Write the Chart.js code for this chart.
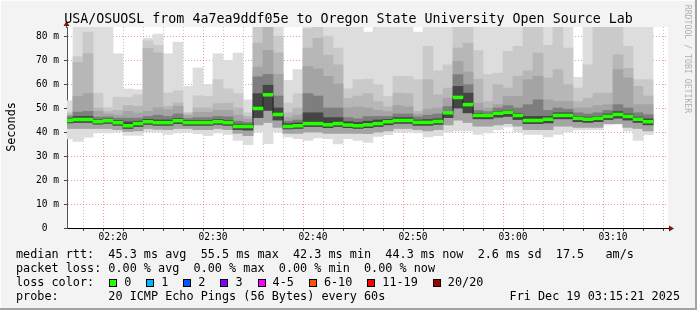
<!DOCTYPE html>
<html>
<head>
<meta charset="utf-8">
<script src="https://cdn.jsdelivr.net/npm/chart.js@4.4.0/dist/chart.umd.min.js"></script>
<style>
  html, body { margin: 0; padding: 0; background: #f3f3f3; }
  #wrap { position: relative; width: 697px; height: 310px; overflow: hidden; font-family: 'DejaVu Sans Mono', monospace; color: #000; }
  #smoke { position: absolute; left: 0; top: 0; }
  .txt { position: absolute; white-space: pre; font-size: 11.8px; line-height: 14px; }
  .box { display: inline-block; width: 6px; height: 6px; border: 1px solid #000; margin: 0 7px 0 15px; vertical-align: -1px; }
</style>
</head>
<body>
<div id="wrap">
  <canvas id="smoke" width="697" height="310"></canvas>
  <div class="txt" style="left:0;width:697px;text-align:center;top:11px;font-size:13.3px;line-height:16px">USA/OSUOSL from 4a7ea9ddf05e to Oregon State University Open Source Lab</div>
  <div class="txt" style="left:-39px;width:100px;text-align:center;top:120px;transform:rotate(-90deg)">Seconds</div>
  <div class="txt" style="left:628px;width:120px;text-align:center;top:53px;font-size:8.2px;line-height:12px;color:#b0b0b0;transform:rotate(90deg)">RRDTOOL / TOBI OETIKER</div>
  <div class="txt" style="left:16px;top:247px">median rtt:  45.3 ms avg  55.5 ms max  42.3 ms min  44.3 ms now  2.6 ms sd  17.5   am/s</div>
  <div class="txt" style="left:16px;top:261px">packet loss: 0.00 % avg  0.00 % max  0.00 % min  0.00 % now</div>
  <div class="txt" id="lossRow" style="left:16px;top:275px">loss color:</div>
  <div class="txt" style="left:16px;top:289px">probe:       20 ICMP Echo Pings (56 Bytes) every 60s</div>
  <div class="txt" style="right:17px;top:289px">Fri Dec 19 03:15:21 2025</div>
</div>
<script>
// one bar per minute, first bar starts 02:15 (minutes after 02:00)
var firstMinute = 15;

var medianRtt = [44.8, 45.2, 45.2, 44.3, 44.7, 43.9, 42.6, 43.5, 44.3, 43.9,
                 43.9, 44.7, 43.9, 43.9, 43.9, 44.3, 43.9, 42.3, 42.3, 49.8,
                 55.5, 47.3, 42.3, 42.6, 43.5, 43.5, 43.0, 43.5, 42.9, 42.6,
                 43.0, 43.5, 44.3, 44.8, 44.8, 44.0, 44.0, 44.4, 48.0, 54.4,
                 51.4, 46.9, 46.9, 47.8, 48.2, 46.9, 44.8, 44.8, 45.3, 46.9,
                 46.9, 45.7, 45.3, 45.7, 46.5, 47.3, 46.5, 45.3, 44.3];

var maxRtt = [53, 90, 90, 90, 90, 72.6, 57.9, 57.6, 79, 80.8,
              72.6, 77.5, 59, 66.7, 59.7, 72.6, 69.7, 72.9, 53.4, 90,
              90, 88, 61.5, 66, 90, 90, 90, 84, 84, 84,
              81.6, 84, 84, 84, 84, 81.6, 84, 84, 84, 86,
              86, 84, 84, 84, 84, 84, 84, 84, 84, 84,
              84, 62.8, 84, 84, 84, 84, 84, 84, 84];

var highB = [48.3, 71.4, 81.6, 56.2, 50.2, 54.5, 54.4, 55.5, 78, 76.1,
             56.2, 57.2, 48.2, 55.1, 54.8, 61.8, 58, 56, 48, 88,
             88, 80, 52, 56, 83, 86, 80, 75, 58, 61.8,
             62, 59.7, 54.8, 63.2, 63.2, 61.8, 75.7, 65.5, 68, 84,
             84, 73.9, 63.9, 64.5, 73.6, 75.7, 84, 84, 76.1, 84,
             75, 58.3, 68, 84, 84, 84, 75.7, 61.8, 61.8];

var highC = [47.5, 69, 72.6, 50, 48.5, 49, 51, 50.7, 74.8, 73,
             50.7, 52.1, 47.5, 50, 50, 51.8, 52, 50, 46.5, 77,
             86, 73, 48, 50, 75, 79, 72, 68, 54, 55,
             56, 52.7, 50.5, 56.2, 56, 48.6, 61.8, 55.5, 58.3, 75,
             77, 62, 52.7, 59.7, 58.3, 63.2, 65.5, 72.9, 62.5, 66,
             59.7, 52.7, 54.1, 56.2, 56.2, 72.2, 66.5, 59, 55];

var highD = [47, 54.8, 56, 48.6, 47.5, 47, 48.6, 47.9, 48.6, 50.1,
             49.3, 50.7, 46.8, 48.2, 48.2, 49, 49, 47, 45.5, 67,
             74, 64, 46, 47, 67.3, 66.3, 63.2, 60, 50, 50.5,
             50, 49, 48.5, 51, 50.5, 47.5, 49.5, 50, 54.1, 69.4,
             65, 52, 50, 51.4, 54.8, 54.8, 61.8, 63.2, 53.4, 52.7,
             52.7, 50, 50, 51, 51.4, 66, 62.5, 51.4, 51.4];

var highE = [46.4, 48.3, 48.6, 46.2, 46.3, 45.8, 45.8, 45.8, 46.5, 47,
             46.5, 47.5, 45.6, 46, 46, 46.5, 46.3, 44.5, 44, 63,
             64, 55, 44.5, 45, 56, 55, 50, 50, 46, 45.5,
             46.5, 46.5, 46.5, 47.5, 47.5, 46.3, 47, 47.5, 50.6, 63.9,
             59.7, 49, 48.5, 50, 51, 50, 51.4, 53.4, 49, 50,
             49.5, 48, 47.5, 48, 49, 51.4, 50, 48, 47.2];

var highF = [45.5, 46.5, 46.5, 45.1, 45.4, 44.8, 44.2, 44.5, 45.3, 45,
             45, 45.6, 44.8, 44.8, 44.8, 45.2, 44.8, 43.3, 43.2, 56,
             59.5, 50, 43.5, 43.8, 48, 48, 46, 46, 44.3, 44,
             44.5, 45, 45.3, 46, 46, 45, 45.2, 45.5, 48.5, 59,
             56.2, 47.8, 47.5, 48.6, 49, 47.8, 46.5, 46.5, 46.5, 48,
             48, 46.5, 46.2, 46.5, 47.5, 48.5, 47.5, 46.2, 45.5];

var lowNear = [43.8, 44, 44, 43.3, 43.6, 42.8, 41.5, 42.3, 43.2, 42.8,
               42.8, 43.5, 42.8, 42.8, 42.8, 43.2, 42.8, 41, 40.8, 46,
               49, 45, 41.3, 41.5, 42.3, 42.3, 41.8, 42.3, 41.8, 41.5,
               41.8, 42.3, 43, 43.6, 43.6, 42.8, 42.8, 43.2, 46, 50,
               48, 45.5, 45.5, 46.2, 46.5, 45.2, 43.5, 43.5, 43.8, 45.5,
               45.5, 44.3, 44, 44.3, 45.2, 45.8, 45, 44, 43];

var lowMid = [41.5, 41.5, 41.5, 41.5, 41.5, 41, 40.3, 40.5, 41.5, 41.2,
              41, 41.5, 41.5, 41, 41, 41.5, 41, 39.5, 38.5, 43,
              44, 42, 39.5, 39.5, 40, 40, 39.5, 39.5, 39.5, 39.5,
              39.3, 40, 40.5, 41.5, 41.5, 41, 40.5, 41, 43, 45,
              44, 42.5, 42.5, 43, 43.5, 42.5, 41, 41, 41, 42.5,
              42.5, 42, 42, 42, 43.5, 43.5, 42, 41.5, 40.5];

var minRtt = [37.1, 36.1, 37.8, 39.6, 39.6, 40, 38.6, 38.6, 40, 40,
              39, 39.6, 40, 39.3, 38.5, 39.6, 39, 36.5, 34.7, 40,
              35.1, 40, 37.9, 37.2, 36.5, 37.5, 37.2, 35, 37.2, 36.5,
              35.7, 38.2, 38.9, 40, 40, 39.6, 37.9, 38.5, 40, 40.4,
              40.4, 39, 39.6, 41, 42.1, 40, 39, 39, 37.9, 39,
              40, 41, 41, 41, 43.0, 43.3, 40.3, 36.5, 38.9];

var xTickMinutes = [20, 30, 40, 50, 60, 70];
var xTickLabels = ['02:20', '02:30', '02:40', '02:50', '03:00', '03:10'];
var yTickLabels = ['0  ', '10 m', '20 m', '30 m', '40 m', '50 m', '60 m', '70 m', '80 m'];

var lossLabels = ['0', '1', '2', '3', '4-5', '6-10', '11-19', '20/20'];
var lossColors = ['#26ff00', '#00b8ff', '#0059ff', '#7e00ff', '#ff00ff', '#ff5500', '#ff0000', '#a10000'];

var lossRow = document.getElementById('lossRow');
lossLabels.forEach(function (lbl, i) {
  var b = document.createElement('span');
  b.className = 'box';
  b.style.background = lossColors[i];
  lossRow.appendChild(b);
  lossRow.appendChild(document.createTextNode(lbl));
});

function band(lo, hi) {
  return medianRtt.map(function (m, i) {
    return { x: firstMinute + i + 0.5, y: [lo[i], hi[i]] };
  });
}

function smokeSet(lo, hi, color) {
  return {
    type: 'bar', data: band(lo, hi), backgroundColor: color,
    grouped: false, barPercentage: 1, categoryPercentage: 1, borderWidth: 0
  };
}

// green median mark is a thin band around each median
var medLow = medianRtt.map(function (m) { return m - 0.6; });
var medHigh = medianRtt.map(function (m) { return m + 0.6; });

var majorGrid = 'rgba(235,90,90,0.6)';
var minorGrid = 'rgba(150,150,150,0.55)';

function gridColor(c) {
  if (!c.tick) return minorGrid;
  var v = c.tick.value;
  if (c.scale.axis === 'y' && v === 0) return 'rgba(0,0,0,0)';
  return v % 10 === 0 ? majorGrid : minorGrid;
}

var framePlugin = {
  id: 'frame',
  beforeDraw: function (chart) {
    var ctx = chart.ctx, a = chart.chartArea;
    ctx.save();
    ctx.fillStyle = '#f3f3f3';
    ctx.fillRect(0, 0, 697, 310);
    ctx.fillStyle = '#fdfdfd';
    ctx.fillRect(0, 0, 697, 1);
    ctx.fillRect(0, 0, 1, 310);
    ctx.fillStyle = '#a3a3a3';
    ctx.fillRect(695, 0, 2, 310);
    ctx.fillRect(0, 308, 697, 2);
    ctx.fillStyle = '#fff';
    ctx.fillRect(a.left, a.top, a.right - a.left, a.bottom - a.top);
    ctx.restore();
  },
  afterDraw: function (chart) {
    var ctx = chart.ctx, a = chart.chartArea;
    ctx.save();
    ctx.strokeStyle = '#555';
    ctx.beginPath();
    ctx.moveTo(a.left - 0.5, a.top + 1);
    ctx.lineTo(a.left - 0.5, a.top - 3);
    ctx.stroke();
    ctx.fillStyle = '#7f1010';
    ctx.beginPath();
    ctx.moveTo(a.left - 0.5, a.top - 6);
    ctx.lineTo(a.left - 3.5, a.top - 1);
    ctx.lineTo(a.left + 2.5, a.top - 1);
    ctx.closePath();
    ctx.fill();
    ctx.beginPath();
    ctx.moveTo(a.right + 6, a.bottom + 0.5);
    ctx.lineTo(a.right + 1, a.bottom - 2.5);
    ctx.lineTo(a.right + 1, a.bottom + 3.5);
    ctx.closePath();
    ctx.fill();
    ctx.restore();
  }
};

var tickFont = { family: "'DejaVu Sans Mono', monospace", size: 9.6 };

new Chart(document.getElementById('smoke'), {
  type: 'bar',
  data: {
    datasets: [
      smokeSet(medLow, medHigh, '#26ff00'),
      {
        type: 'line', data: medianRtt.map(function (m, i) { return { x: firstMinute + i + 0.5, y: m }; }),
        stepped: 'middle', borderColor: '#202020', borderWidth: 1, pointRadius: 0, fill: false
      },
      smokeSet(lowNear, highF, '#454545'),
      smokeSet(lowNear, highE, '#7e7e7e'),
      smokeSet(lowMid, highD, '#a4a4a4'),
      smokeSet(lowMid, highC, '#b7b7b7'),
      smokeSet(lowMid, highB, '#cacaca'),
      smokeSet(minRtt, maxRtt, '#dddddd')
    ]
  },
  options: {
    responsive: false,
    animation: false,
    devicePixelRatio: 1,
    layout: { padding: { left: 0, right: 29, top: 27, bottom: 0 } },
    plugins: { legend: { display: false }, tooltip: { enabled: false }, title: { display: false } },
    scales: {
      x: {
        type: 'linear', min: 15.4, max: 75.5, offset: false, z: 1,
        afterFit: function (s) { s.height = 82; },
        border: { color: '#000', dash: [1, 2] },
        grid: { color: gridColor, tickLength: 3, tickColor: '#444' },
        ticks: {
          stepSize: 2, autoSkip: false, includeBounds: false, maxRotation: 0, padding: 1,
          color: '#000', font: tickFont,
          callback: function (v) { var i = xTickMinutes.indexOf(v); return i < 0 ? '' : xTickLabels[i]; }
        }
      },
      y: {
        min: 0, max: 83.75, z: 1,
        afterFit: function (s) { s.width = 67; },
        border: { color: '#555', dash: [1, 2] },
        grid: { color: gridColor, tickLength: 3, tickColor: '#444' },
        ticks: {
          stepSize: 5, includeBounds: false, padding: 5, color: '#000', font: tickFont,
          callback: function (v) { return v % 10 === 0 ? yTickLabels[v / 10] : ''; }
        }
      }
    }
  },
  plugins: [framePlugin]
});
</script>
</body>
</html>
